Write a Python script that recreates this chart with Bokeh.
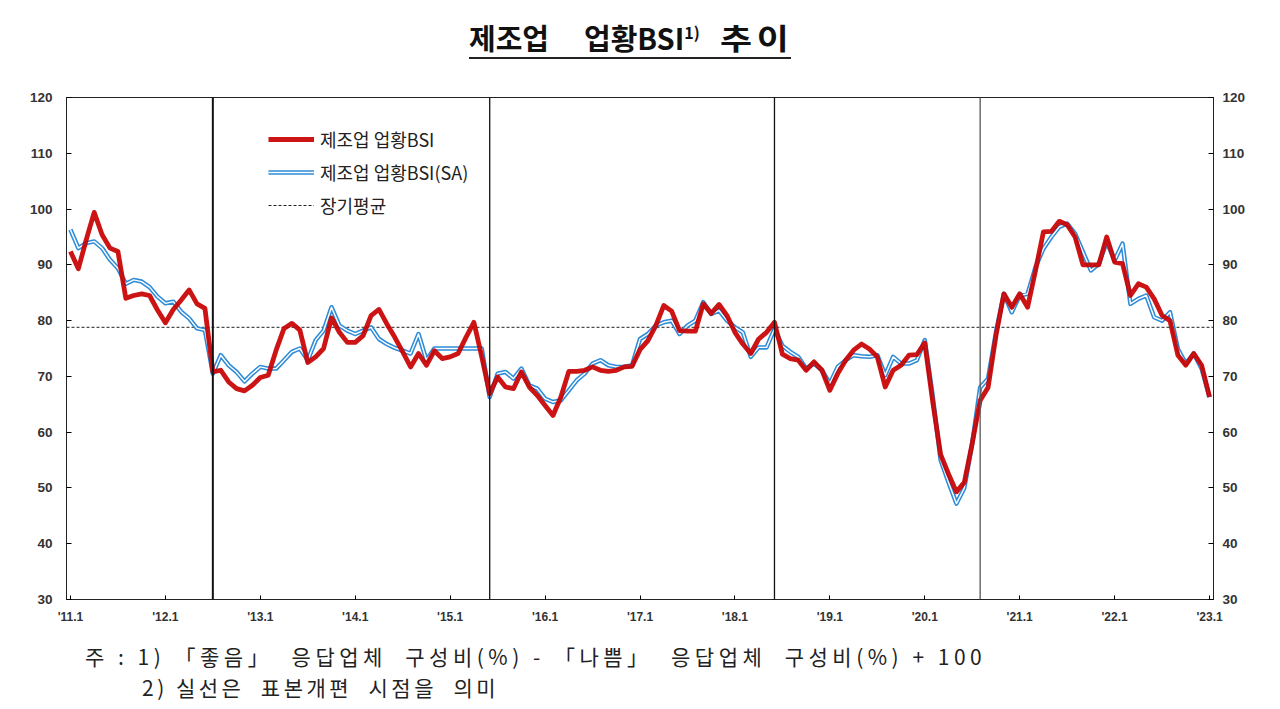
from bokeh.plotting import figure
from bokeh.models import Span, LinearAxis, FixedTicker, Legend, LegendItem, Div, Range1d
from bokeh.layouts import column
from bokeh.embed import file_html
from bokeh.resources import INLINE

# monthly data, 2011.1 ~ 2023.1
bsi = [
    92.4, 89.3, 94.5, 99.4, 95.4, 93.0, 92.4, 84.0, 84.5, 84.8, 84.5, 81.9,  # 2011
    79.6, 82.0, 83.7, 85.5, 83.0, 82.2, 70.8, 71.1, 69.0, 67.8, 67.4, 68.4,  # 2012
    69.8, 70.2, 74.7, 78.6, 79.5, 78.3, 72.5, 73.5, 75.0, 80.5, 77.9, 76.1,  # 2013
    76.1, 77.3, 80.9, 82.0, 79.4, 77.0, 74.4, 71.7, 74.1, 72.0, 74.6, 73.2,  # 2014
    73.5, 74.1, 77.0, 79.7, 73.5, 66.9, 69.9, 68.1, 67.8, 70.8, 68.1, 66.6,  # 2015
    64.8, 63.0, 66.3, 70.9, 70.9, 71.1, 71.7, 71.1, 70.9, 71.1, 71.7, 71.8,  # 2016
    74.8, 76.4, 79.1, 82.7, 81.7, 78.2, 78.1, 78.1, 83.0, 81.3, 82.9, 80.9,  # 2017
    77.9, 75.8, 74.1, 76.7, 77.9, 79.7, 74.0, 73.2, 72.9, 71.1, 72.6, 71.1,  # 2018
    67.5, 70.5, 72.9, 74.7, 75.8, 74.9, 73.5, 68.1, 71.1, 72.0, 73.8, 73.9,  # 2019
    76.0, 65.5, 56.0, 52.5, 49.3, 51.0, 58.0, 65.7, 68.0, 77.3, 84.8, 82.4,  # 2020
    84.8, 82.4, 89.0, 95.9, 96.0, 97.8, 97.2, 95.0, 90.0, 90.0, 90.0, 95.0,  # 2021
    90.5, 90.2, 84.5, 86.6, 86.0, 83.9, 80.9, 80.0, 73.8, 72.0, 74.1, 72.0,  # 2022
    66.3,                                                                    # 2023
]

bsi_sa = [
    96.3, 93.0, 93.9, 94.2, 93.0, 90.9, 89.4, 86.6, 87.3, 87.0, 86.0, 84.3,
    83.1, 83.4, 81.6, 80.4, 78.6, 78.3, 70.5, 73.8, 72.0, 70.8, 69.1, 70.5,
    71.7, 71.4, 71.4, 72.9, 74.4, 75.0, 72.9, 76.5, 78.2, 82.4, 79.1, 78.2,
    77.6, 78.2, 78.8, 76.7, 75.8, 75.1, 74.6, 74.1, 77.6, 72.9, 75.0, 75.0,
    75.0, 75.0, 75.0, 75.0, 75.0, 66.3, 70.5, 70.8, 69.6, 71.4, 68.4, 67.8,
    66.0, 65.4, 65.7, 67.5, 69.3, 70.5, 72.3, 72.9, 72.0, 71.7, 71.7, 72.0,
    76.7, 77.6, 79.1, 79.7, 80.0, 77.6, 79.1, 80.0, 83.3, 81.2, 81.8, 80.0,
    78.8, 77.9, 73.5, 75.2, 75.2, 78.5, 75.5, 74.4, 73.5, 71.4, 72.3, 71.1,
    68.7, 71.7, 72.9, 73.8, 73.6, 73.5, 73.8, 70.2, 73.5, 72.3, 72.3, 72.9,
    76.5, 66.5, 55.0, 51.0, 47.2, 50.0, 58.0, 68.0, 69.6, 77.9, 84.8, 81.5,
    84.5, 84.8, 89.6, 92.9, 95.0, 96.8, 97.4, 95.6, 92.3, 89.0, 90.2, 94.1,
    90.8, 93.8, 83.0, 83.9, 84.5, 80.6, 80.0, 81.5, 74.9, 72.3, 74.1, 71.4,
    66.3,
]

long_avg = 78.8
# sample revision months (index from 2011.1)
revisions = [18, 53, 89, 115]
year_labels = ["'11.1", "'12.1", "'13.1", "'14.1", "'15.1", "'16.1", "'17.1",
               "'18.1", "'19.1", "'20.1", "'21.1", "'22.1", "'23.1"]

months = list(range(len(bsi)))
year_ticks = [i * 12 for i in range(len(year_labels))]

KR = "Noto Sans CJK KR"
AX = "Liberation Sans"

tstyle = ("position:absolute;top:12px;font-family:'Noto Sans CJK KR';font-weight:bold;"
          "font-size:29px;color:#111;white-space:pre;")
title = Div(
    text=('<div style="width:1264px;height:72px;position:relative;">'
          '<div style="position:absolute;left:464px;top:52px;width:322px;height:1.5px;background:#222;"></div>'
          f'<span style="{tstyle}left:464px;">제조업</span>'
          f'<span style="{tstyle}left:579px;">업황BSI<sup style="font-size:16px;">1)</sup></span>'
          f'<span style="{tstyle}left:715px;letter-spacing:4px;display:inline-block;'
          'transform:scaleX(1.2);transform-origin:left;">추이</span></div>'),
    width=1264, height=72,
)

p = figure(width=1264, height=553, output_backend="svg", toolbar_location=None,
           x_range=Range1d(-0.5, 144.5), y_range=Range1d(30, 120),
           min_border_left=66, min_border_right=51, min_border_top=15, min_border_bottom=36)
p.grid.visible = False
p.outline_line_color = "#222222"
p.background_fill_color = "white"


def style_y(ax, standoff):
    ax.ticker = FixedTicker(ticks=list(range(30, 121, 10)))
    ax.major_tick_in = 5
    ax.major_tick_out = 0
    ax.minor_tick_line_color = None
    ax.axis_line_color = "#222222"
    ax.major_label_text_font = AX
    ax.major_label_text_font_style = "bold"
    ax.major_label_text_font_size = "13.5px"
    ax.major_label_text_color = "#333333"
    ax.major_label_standoff = standoff


style_y(p.yaxis[0], 14)
right = LinearAxis()
style_y(right, 9)
p.add_layout(right, "right")

xa = p.xaxis[0]
xa.ticker = FixedTicker(ticks=year_ticks)
xa.major_label_overrides = {t: lab for t, lab in zip(year_ticks, year_labels)}
xa.major_tick_in = 4
xa.major_tick_out = 0
xa.minor_tick_line_color = None
xa.axis_line_color = "#222222"
xa.major_label_text_font = AX
xa.major_label_text_font_style = "bold"
xa.major_label_text_font_size = "12px"
xa.major_label_text_color = "#333333"
xa.major_label_standoff = 10

# long-term average
avg_line = p.line([-0.5, 144.5], [long_avg, long_avg], line_color="#222222",
                  line_width=1, line_dash="3 2")

for i, m in enumerate(revisions):
    p.add_layout(Span(location=m, dimension="height", line_color="#111111" if i < 3 else "#555555",
                      line_width=2 if i == 0 else 1.3))

sa_outer = p.line(months, bsi_sa, line_color="#2E8BD8", line_width=4.5, line_join="round")
sa_inner = p.line(months, bsi_sa, line_color="white", line_width=1.4, line_join="round")
red = p.line(months, bsi, line_color="#C80000", line_width=4.8, line_join="round", alpha=0.92)

legend = Legend(items=[
    LegendItem(label="제조업 업황BSI", renderers=[red]),
    LegendItem(label="제조업 업황BSI(SA)", renderers=[sa_outer, sa_inner]),
    LegendItem(label="장기평균", renderers=[avg_line]),
], location=(197, 376))
legend.border_line_alpha = 0
legend.background_fill_alpha = 0
legend.label_text_font = KR
legend.label_text_font_size = "18px"
legend.label_text_color = "#222222"
legend.glyph_width = 46
legend.glyph_height = 24
legend.label_height = 24
legend.spacing = 7
legend.padding = 5
legend.label_standoff = 6
p.add_layout(legend)

notes = Div(
    text=('<div style="width:1264px;height:68px;position:relative;font-family:\'Noto Sans CJK KR\';'
          'font-size:21px;color:#222;white-space:pre;">'
          '<span style="position:absolute;left:80px;top:1px;letter-spacing:4.5px;">'
          '주 : 1) 「좋음」  응답업체  구성비(%) - 「나쁨」  응답업체  구성비(%) + 100</span>'
          '<span style="position:absolute;left:137px;top:32px;letter-spacing:3.5px;">'
          '2) 실선은  표본개편  시점을  의미</span></div>'),
    width=1264, height=68,
)

layout = column(title, p, notes)
open("out.html", "w").write(file_html(layout, INLINE))
